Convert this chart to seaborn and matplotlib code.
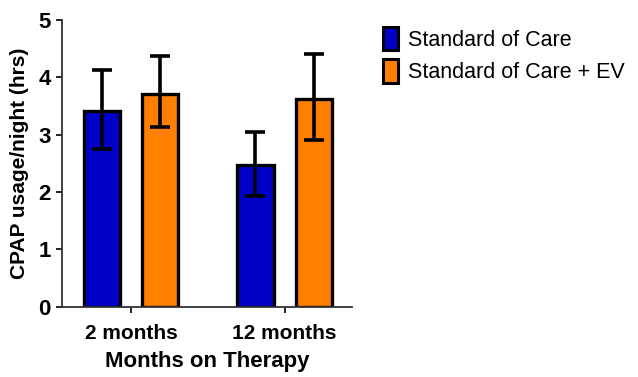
import pandas as pd
import matplotlib.pyplot as plt
import seaborn as sns
from matplotlib.patches import Patch

# Data
months = ["2 months", "12 months"]
groups = ["Standard of Care", "Standard of Care + EV"]
soc_mean = [3.42, 2.47]
soc_low = [2.75, 1.93]
soc_high = [4.12, 3.05]
ev_mean = [3.71, 3.62]
ev_low = [3.13, 2.91]
ev_high = [4.37, 4.41]
colors = ["#0000C8", "#FF8000"]

df = pd.DataFrame({
    "month": months * 2,
    "group": [groups[0]] * 2 + [groups[1]] * 2,
    "usage": soc_mean + ev_mean,
    "low": soc_low + ev_low,
    "high": soc_high + ev_high,
})

sns.set_style("ticks")
plt.rcParams["font.family"] = ["Liberation Sans", "DejaVu Sans"]
plt.rcParams["text.color"] = "black"
plt.rcParams["axes.labelcolor"] = "black"
plt.rcParams["xtick.color"] = "black"
plt.rcParams["ytick.color"] = "black"

fig = plt.figure(figsize=(6.38, 3.77), dpi=100)
ax = fig.add_axes([0.097, 0.186, 0.455, 0.761])

sns.barplot(data=df, x="month", y="usage", hue="group", order=months,
            hue_order=groups, palette=colors, saturation=1, width=0.76, gap=0.38,
            errorbar=None, edgecolor="black", linewidth=2.4, ax=ax,
            legend=False)

# error bars placed on the bars drawn by seaborn
for patch, (_, row) in zip(ax.patches, df.iterrows()):
    xc = patch.get_x() + patch.get_width() / 2
    ax.errorbar(xc, row["usage"],
                yerr=[[row["usage"] - row["low"]], [row["high"] - row["usage"]]],
                fmt="none", ecolor="black", elinewidth=2.6, capsize=7.5,
                capthick=2.6, zorder=5)

ax.set_ylim(0, 5)
ax.set_xlim(-0.45, 1.44)
ax.set_yticks([0, 1, 2, 3, 4, 5])
ax.set_ylabel("CPAP usage/night (hrs)", fontsize=15, fontweight="bold", labelpad=7)
ax.set_xlabel("Months on Therapy", fontsize=16, fontweight="bold", labelpad=6)
ax.tick_params(axis="x", labelsize=15, width=1.2, length=4, pad=8)
ax.tick_params(axis="y", labelsize=16, width=1.2, length=4, pad=4)
for lab in ax.get_xticklabels() + ax.get_yticklabels():
    lab.set_fontweight("bold")
sns.despine(ax=ax)
for s in ["left", "bottom"]:
    ax.spines[s].set_linewidth(1.3)
    ax.spines[s].set_color("#333333")

handles = [Patch(facecolor=c, edgecolor="black", linewidth=2.2) for c in colors]
fig.legend(handles, groups, loc="upper left", bbox_to_anchor=(0.57, 0.98),
           frameon=False, fontsize=15.5, handlelength=0.7, handleheight=1.3,
           handletextpad=0.45, labelspacing=0.4)

fig.savefig("out.png", dpi=100)
